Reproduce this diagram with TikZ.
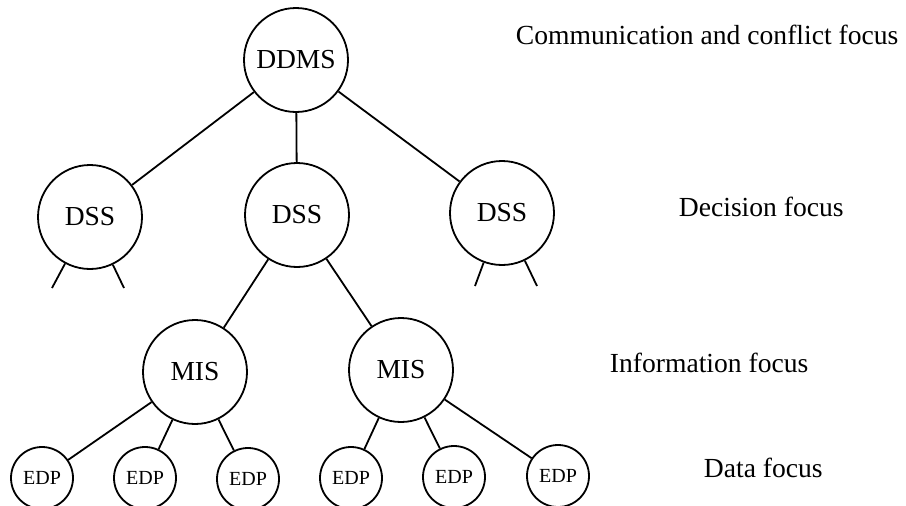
\documentclass[tikz,border=0pt]{standalone}
\usepackage{fontspec}
\setmainfont{Liberation Serif}
\usetikzlibrary{calc}

\begin{document}
\begin{tikzpicture}[x=1pt,y=-1pt,line width=1.8pt,
  bigc/.style={draw,circle,minimum size=104pt,inner sep=0pt,font=\fontsize{27.5}{30}\selectfont},
  smallc/.style={draw,circle,minimum size=62pt,inner sep=0pt,font=\fontsize{20}{22}\selectfont},
  focus/.style={anchor=base west,inner sep=0pt,font=\fontsize{27.6}{30}\selectfont}]

\useasboundingbox (0,0) rectangle (906,506);

\node[bigc] (ddms) at (296,60) {DDMS};

\node[bigc] (dssL) at (90,217) {DSS};
\node[bigc] (dssM) at (297,215) {DSS};
\node[bigc] (dssR) at (502,213) {DSS};

\node[bigc] (misL) at (195,372) {MIS};
\node[bigc] (misR) at (401,370) {MIS};

\node[smallc] (edp1) at (42,478) {EDP};
\node[smallc] (edp2) at (145,478) {EDP};
\node[smallc] (edp3) at (248,479) {EDP};
\node[smallc] (edp4) at (351,478) {EDP};
\node[smallc] (edp5) at (454,477) {EDP};
\node[smallc] (edp6) at (558,476) {EDP};

% loose ends under the outer DSS
\coordinate (sL1) at (52,288);
\coordinate (sL2) at (124,288);
\coordinate (sR1) at (475,286);
\coordinate (sR2) at (537,286);

\draw (ddms)--(dssL);
\draw (ddms)--(dssM);
\draw (ddms)--(dssR);

\draw (dssL)--(sL1);
\draw (dssL)--(sL2);
\draw (dssR)--(sR1);
\draw (dssR)--(sR2);

\draw (dssM)--(misL);
\draw (dssM)--(misR);

\draw (misL)--(edp1);
\draw (misL)--(edp2);
\draw (misL)--(edp3);
\draw (misR)--(edp4);
\draw (misR)--(edp5);
\draw (misR)--(edp6);

\node[focus] (lc) at (515,45) {Communication and conflict focus};
\node[focus] (ld) at (678,216) {Decision focus};
\node[focus] (li) at (609,372) {Information focus};
\node[focus] (le) at (703,477) {Data focus};

\end{tikzpicture}
\end{document}
